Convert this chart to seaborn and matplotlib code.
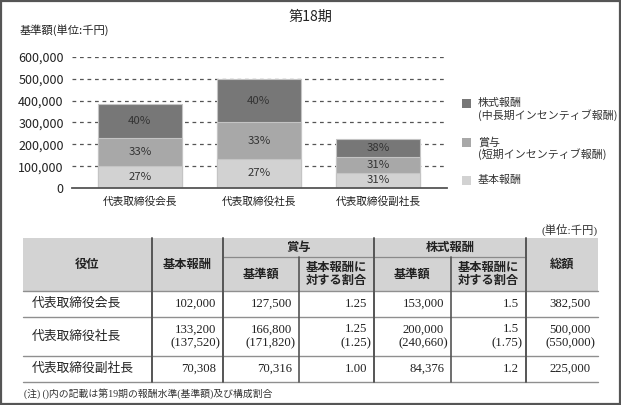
import matplotlib
matplotlib.use("Agg")
import matplotlib.pyplot as plt
from matplotlib.patches import Rectangle
import seaborn as sns
import pandas as pd

# ---- data (単位: 千円) ----
roles = ["代表取締役会長", "代表取締役社長", "代表取締役副社長"]
base_pay = [102000, 133200, 70308]
bonus_amt = [127500, 166800, 70316]
bonus_ratio = ["1.25", "1.25", "1.00"]
stock_amt = [153000, 200000, 84376]
stock_ratio = ["1.5", "1.5", "1.2"]
total_pay = [382500, 500000, 225000]

# 第19期 (社長のみ) — shown in brackets
next_row = 1
next_vals = ["137,520", "171,820", "1.25", "240,660", "1.75", "550,000"]

yticks = [0, 100000, 200000, 300000, 400000, 500000, 600000]
series_names = ["株式報酬\n(中長期インセンティブ報酬)", "賞与\n(短期インセンティブ報酬)", "基本報酬"]
series_colors = ["#777777", "#a8a8a8", "#d2d2d2"]

sns.set_style("white")
plt.rcParams["font.family"] = ["Noto Sans CJK JP", "DejaVu Sans"]
SERIF = ["Liberation Serif", "Noto Sans CJK JP"]

W, H = 621, 405
fig = plt.figure(figsize=(W / 100, H / 100), dpi=100)

# background axes in pixel coordinates for the table and loose text
tax = fig.add_axes([0, 0, 1, 1])
tax.set_xlim(0, W)
tax.set_ylim(H, 0)
tax.axis("off")

# ---- stacked bar chart ----
df = pd.DataFrame({"role": roles, "base": base_pay, "bonus": bonus_amt, "stock": stock_amt})
df["lvl2"] = df["base"] + df["bonus"]
df["lvl3"] = df["lvl2"] + df["stock"]

ax = fig.add_axes([72 / W, 1 - 188 / H, 375 / W, 131 / H])
for col, colr in zip(["lvl3", "lvl2", "base"], series_colors):
    sns.barplot(data=df, x="role", y=col, color=colr, saturation=1, width=0.7,
                edgecolor="#c4c4c4", linewidth=0.8, ax=ax, zorder=3)

# percentage labels in the middle of each segment
for i, r in df.iterrows():
    bottoms = [0, r["base"], r["lvl2"]]
    for b, v in zip(bottoms, [r["base"], r["bonus"], r["stock"]]):
        pct = round(v / r["lvl3"] * 100)
        ax.text(i, b + v / 2, f"{pct}%", ha="center", va="center",
                fontsize=8.2, color="#333333", zorder=4)

ax.set_xlim(-0.57, 2.58)
ax.set_ylim(0, 600000)
ax.set_yticks(yticks)
ax.set_yticklabels([f"{t:,}" for t in yticks], fontsize=9, color="#222222")
ax.tick_params(axis="both", length=0)
ax.tick_params(axis="y", pad=6)
ax.tick_params(axis="x", pad=6, labelsize=7.7, labelcolor="#222222")
ax.set_xlabel("")
ax.set_ylabel("")
for t in yticks[1:]:
    ax.axhline(t, color="#555555", lw=0.9, ls=(0, (3, 3)), zorder=1)
for s in ["top", "right", "left"]:
    ax.spines[s].set_visible(False)
ax.spines["bottom"].set_color("#555555")
ax.spines["bottom"].set_linewidth(1.3)
ax.spines["bottom"].set_zorder(5)

tax.text(310.5, 17, "第18期", ha="center", va="center", fontsize=10.2, color="#222222")
tax.text(20, 30, "基準額(単位:千円)", ha="left", va="center", fontsize=8.1, color="#222222")

# legend drawn by hand next to the chart
leg_y = [103, 142, 180]
for name, colr, y in zip(series_names, series_colors, leg_y):
    tax.add_patch(Rectangle((462, y - 4.5), 9, 9, facecolor=colr, edgecolor="none"))
    lines = name.split("\n")
    tax.text(478, y, lines[0], ha="left", va="center", fontsize=7.9, color="#333333")
    if len(lines) > 1:
        tax.text(478, y + 12.5, lines[1], ha="left", va="center", fontsize=7.9, color="#333333")

# ---- table ----
xs = [23, 152, 223, 299, 374, 451, 526, 598]
y_top, y_mid, y_head = 238, 257, 291
row_edges = [291, 317, 356, 382]

tax.add_patch(Rectangle((xs[0], y_top), xs[-1] - xs[0], y_head - y_top,
                        facecolor="#d3d3d3", edgecolor="none"))
tax.plot([xs[2], xs[6]], [y_mid, y_mid], color="#8a8a8a", lw=0.9)
for y in row_edges:
    tax.plot([xs[0], xs[-1]], [y, y], color="#8f8f8f", lw=1.0)
for x in [xs[1], xs[2], xs[4], xs[6]]:
    tax.plot([x, x], [y_top, row_edges[-1]], color="#555555", lw=1.4)
for x in [xs[3], xs[5]]:
    tax.plot([x, x], [y_mid, row_edges[-1]], color="#555555", lw=1.2)

hdr = dict(ha="center", va="center", fontsize=8.8, fontweight="bold", color="#222222")
cx = [(a + b) / 2 for a, b in zip(xs[:-1], xs[1:])]
tax.text(cx[0], 264, "役位", **hdr)
tax.text(cx[1], 264, "基本報酬", **hdr)
tax.text((xs[2] + xs[4]) / 2, 247.5, "賞与", **hdr)
tax.text((xs[4] + xs[6]) / 2, 247.5, "株式報酬", **hdr)
tax.text(cx[2], 274, "基準額", **hdr)
tax.text(cx[3], 274, "基本報酬に\n対する割合", linespacing=1.05, **hdr)
tax.text(cx[4], 274, "基準額", **hdr)
tax.text(cx[5], 274, "基本報酬に\n対する割合", linespacing=1.05, **hdr)
tax.text(cx[6], 264, "総額", **hdr)

cell = dict(va="center", fontsize=9.2, color="#222222", family=SERIF)
for i, role in enumerate(roles):
    vals = [f"{base_pay[i]:,}", f"{bonus_amt[i]:,}", bonus_ratio[i],
            f"{stock_amt[i]:,}", stock_ratio[i], f"{total_pay[i]:,}"]
    top, bot = row_edges[i], row_edges[i + 1]
    ymid = (top + bot) / 2
    tax.text(32, ymid, role, ha="left", **cell)
    for j, v in enumerate(vals):
        right = xs[j + 2]
        if i == next_row:
            tax.text(right - 7, ymid - 7, v, ha="right", **cell)
            tax.text(right - 3, ymid + 7, f"({next_vals[j]})", ha="right", **cell)
        else:
            tax.text(right - 7, ymid, v, ha="right", **cell)

tax.text(598, 230, "(単位:千円)", ha="right", va="center", fontsize=8.2,
         color="#333333", family=SERIF)
tax.text(24, 394, "(注) ()内の記載は第19期の報酬水準(基準額)及び構成割合",
         ha="left", va="center", fontsize=7.1, color="#333333", family=SERIF)

# outer frame
tax.add_patch(Rectangle((1, 1), W - 2, H - 2, facecolor="none", edgecolor="#555555", lw=1.6))

fig.savefig("out.png", dpi=100)
